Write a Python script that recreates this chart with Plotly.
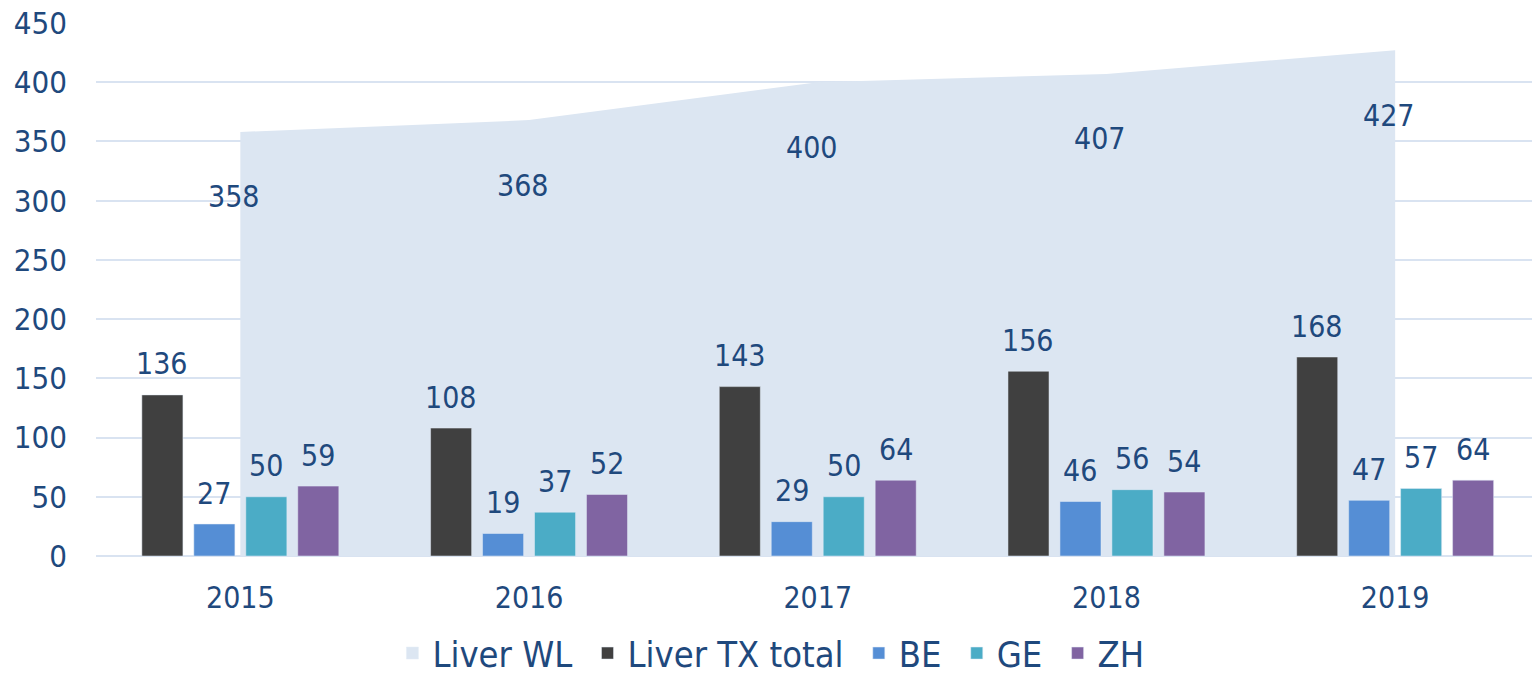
import plotly.graph_objects as go

years = ["2015", "2016", "2017", "2018", "2019"]
liver_wl = [358, 368, 400, 407, 427]
liver_tx_total = [136, 108, 143, 156, 168]
be = [27, 19, 29, 46, 47]
ge = [50, 37, 50, 56, 57]
zh = [59, 52, 64, 54, 64]

FONT = "Tahoma, 'DejaVu Sans Condensed', 'DejaVu Sans', sans-serif"
TXT = "#1F497D"
xpos = list(range(len(years)))
PAD = "\u00a0"

fig = go.Figure()
# legend-only square for the area series
fig.add_trace(go.Bar(x=xpos, y=[None] * len(years), name="Liver WL" + PAD,
                     marker_color="#DCE6F2", xaxis="x", yaxis="y", hoverinfo="skip"))
fig.add_trace(go.Scatter(x=xpos, y=liver_wl, name="Liver WL", mode="lines",
                         line=dict(width=0, color="#DCE6F2"), fill="tozeroy",
                         fillcolor="#DCE6F2", showlegend=False,
                         xaxis="x", yaxis="y"))

bar_series = [("Liver TX total", liver_tx_total, "#404040"),
              ("BE", be, "#558ED5"),
              ("GE", ge, "#4BACC6"),
              ("ZH", zh, "#8064A2")]
for i, (name, vals, col) in enumerate(bar_series):
    label = name + (PAD if i < len(bar_series) - 1 else "")
    fig.add_trace(go.Bar(x=xpos, y=vals, name=label, marker_color=col,
                         xaxis="x2", yaxis="y2"))

slot_px = 52
offsets = [-1.5, -0.5, 0.5, 1.5]
ann = []
for (name, vals, col), off in zip(bar_series, offsets):
    for xi, v in zip(xpos, vals):
        ann.append(dict(x=xi, y=v, xref="x2", yref="y2", text=str(v), showarrow=False,
                        xshift=off * slot_px, yshift=31, yanchor="middle", xanchor="center",
                        font=dict(size=30, color=TXT, family=FONT)))
for xi, v in zip(xpos, liver_wl):
    ann.append(dict(x=xi, y=v, xref="x", yref="y", text=str(v), showarrow=False,
                    xshift=-6, yshift=-65, yanchor="middle", xanchor="center",
                    font=dict(size=30, color=TXT, family=FONT)))

xr = [-0.5, 4.474]
fig.update_layout(
    width=1532, height=681,
    margin=dict(l=96, r=0, t=23, b=125, autoexpand=False),
    paper_bgcolor="white", plot_bgcolor="white",
    barmode="group", bargap=0.28, bargroupgap=0.21,
    font=dict(family=FONT, color=TXT, size=28),
    showlegend=True,
    legend=dict(orientation="h", x=0.47, xanchor="center", y=-0.126, yanchor="top",
                font=dict(size=36, color=TXT, family=FONT), traceorder="normal",
                itemwidth=30),
    annotations=ann,
    xaxis=dict(range=xr, tickmode="array", tickvals=xpos, ticktext=years,
               showgrid=False, showline=False, zeroline=False, ticks="",
               tickfont=dict(size=30, color=TXT, family=FONT), ticklabelstandoff=21,
               automargin=False, ticklabeloverflow="allow"),
    yaxis=dict(range=[0, 450], dtick=50, showgrid=True, gridcolor="#D9E3F1", gridwidth=2,
               zeroline=True, zerolinecolor="#D9E3F1", zerolinewidth=2,
               tickfont=dict(size=31, color=TXT, family=FONT), ticklabelstandoff=28,
               automargin=False, ticklabeloverflow="allow"),
    xaxis2=dict(range=xr, overlaying="x", visible=False),
    yaxis2=dict(range=[0, 450], overlaying="y", visible=False),
)

fig.write_html("out.html", config={"displayModeBar": False},
               post_script="document.body.style.margin='0';")
